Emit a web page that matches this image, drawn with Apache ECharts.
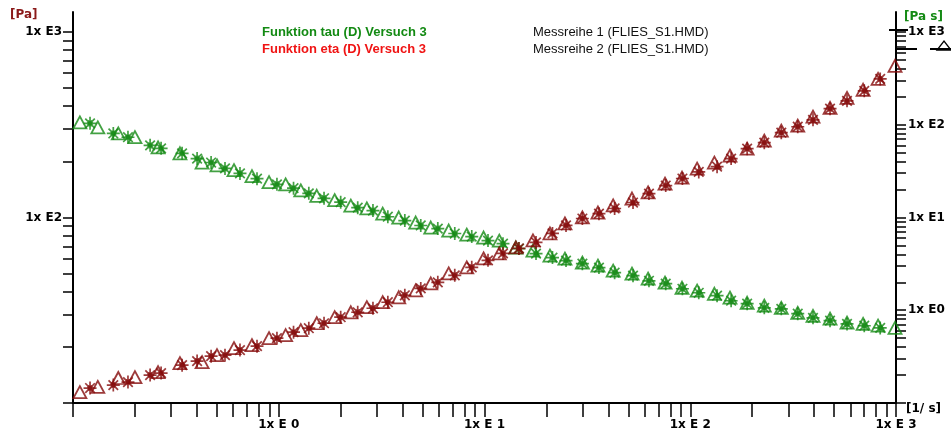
<!DOCTYPE html>
<html><head><meta charset="utf-8">
<script src="https://cdn.jsdelivr.net/npm/echarts@6/dist/echarts.min.js"></script>
<style>html,body{margin:0;padding:0;background:#fff}#c{width:951px;height:431px}</style>
</head><body><div id="c"></div>
<script>
// shear rate [1/s] for the two measurement runs
const rateM1 = [0.121,0.157,0.185,0.237,0.268,0.339,0.401,0.469,0.548,0.648,0.784,0.98,1.18,1.40,1.66,2.0,2.42,2.87,3.39,4.1,4.9,5.93,7.17,8.67,10.4,12.3,14.7,17.8,21.4,24.9,29.9,36.0,42.9,52.7,63,76,91.6,110,135,158,189,229,277,333,395,478,578,701,838];
const rateM2 = [0.108,0.132,0.166,0.2,0.259,0.331,0.424,0.501,0.606,0.741,0.897,1.08,1.28,1.53,1.87,2.24,2.68,3.2,3.83,4.63,5.48,6.7,8.2,9.9,11.8,14.2,17.2,20.8,24.6,29.9,35.6,42.2,52.1,62.4,75.4,91.2,108,131,156,189,229,277,333,395,478,578,692,818,989];
// tau [Pa]
const tauM1 = [322,284,271,245,236,222,208,198,184,173,162,151,144,135,127,121,113,109,101,96.3,90.6,87.2,82,78.9,75.1,72.3,68,63.9,60.8,58.6,56.4,53.7,50.4,48.6,45.6,44,41.3,39.3,37.9,35.6,34.3,32.6,32.2,30.3,28.8,27.8,26.7,26.1,25.4];
const tauM2 = [326,306,284,271,239,222,198,191,180,167,155,151,140,131,124,116,112,105,100,94,88.3,85.1,80.9,78,75.1,68.9,66.4,62.3,60,57.1,55,51.7,49.8,46.8,44.6,41.8,40.3,38.8,37,34.7,33.5,32.6,30.6,29.5,28.5,27.1,26.7,26.1,25.4];
// eta [Pa s]
const etaM1 = [0.145,0.156,0.168,0.2,0.21,0.256,0.283,0.32,0.328,0.372,0.41,0.5,0.58,0.64,0.724,0.841,0.951,1.05,1.22,1.45,1.72,2.0,2.38,2.9,3.45,4.1,4.64,5.39,6.73,8.2,9.75,11,12.5,14.5,18.1,22.1,26.3,31,35.3,43.1,55.2,64,82,95.1,113,149,181,232,312];
const etaM2 = [0.131,0.149,0.186,0.19,0.215,0.269,0.276,0.328,0.39,0.421,0.5,0.538,0.61,0.724,0.841,0.951,1.08,1.22,1.38,1.64,1.95,2.5,2.9,3.62,4.1,4.76,5.66,6.73,8.61,10,11.3,13.5,16,18.6,23.2,26.9,33.6,39,46.4,55.2,67.3,86.1,97.5,122,152,195,238,312,430];

// axis ticks and labels
const xTicks = [0.1,0.2,0.3,0.4,0.5,0.6,0.7,0.8,0.9,1,2,3,4,5,6,7,8,9,10,20,30,40,50,60,70,80,90,100,200,300,400,500,600,700,800,900,1000];
const xLabels = [1,10,100,1000];
const yLeftTicks = [10,20,30,40,50,60,70,80,90,100,200,300,400,500,600,700,800,900,1000];
const yLeftLabels = [100,1000];
const yRightTicks = [0.1,0.2,0.3,0.4,0.5,0.6,0.7,0.8,0.9,1,2,3,4,5,6,7,8,9,10,20,30,40,50,60,70,80,90,100,200,300,400,500,600,700,800,900,1000];
const yRightLabels = [1,10,100,1000];

const GREEN = '#148a14', DRED = '#850a0a';
const STAR = 'path://M0,6L12,6M6,0L6,12M1.6,1.6L10.4,10.4M10.4,1.6L1.6,10.4M8.2,6A2.2,2.2,0,1,1,3.8,6A2.2,2.2,0,1,1,8.2,6Z';
const zip = (a, b) => a.map((v, i) => [v, b[i]]);
const lblFont = {fontFamily: 'DejaVu Sans', fontWeight: 'bold', fontSize: 12, color: '#000'};
const lineStyle = {color: '#000', width: 2};

function triSeries(name, data, color, yIdx) {
  return {name, type: 'scatter', yAxisIndex: yIdx, data, symbol: 'triangle', symbolSize: [13, 12],
    itemStyle: {color: 'transparent', borderColor: color, borderWidth: 1.8}, silent: true};
}
function starSeries(name, data, color, yIdx) {
  return {name, type: 'scatter', yAxisIndex: yIdx, data, symbol: STAR, symbolSize: 13,
    itemStyle: {color: color, borderColor: color, borderWidth: 1.7}, silent: true};
}

const chart = echarts.init(document.getElementById('c'));
chart.setOption({
  animation: false,
  backgroundColor: '#fff',
  grid: {left: 73, right: 55, top: 12, bottom: 28},
  xAxis: {
    type: 'log', logBase: 10, min: 0.1, max: 1000,
    axisLine: {lineStyle: lineStyle},
    axisTick: {customValues: xTicks, length: 14, lineStyle: {color: '#000', width: 1.5}},
    axisLabel: Object.assign({customValues: xLabels, margin: 16,
      formatter: v => '1x E ' + Math.round(Math.log10(v))}, lblFont),
    splitLine: {show: false}
  },
  yAxis: [{
    type: 'log', logBase: 10, min: 10, max: 1283, position: 'left',
    axisLine: {show: true, lineStyle: lineStyle},
    axisTick: {customValues: yLeftTicks, length: 10, lineStyle: {color: '#000', width: 1.5}},
    axisLabel: Object.assign({customValues: yLeftLabels, margin: 11,
      formatter: v => '1x E' + Math.round(Math.log10(v))}, lblFont),
    splitLine: {show: false}
  }, {
    type: 'log', logBase: 10, min: 0.1, max: 1641, position: 'right',
    axisLine: {show: true, lineStyle: lineStyle},
    axisTick: {customValues: yRightTicks, length: 10, lineStyle: {color: '#000', width: 1.5}},
    axisLabel: Object.assign({customValues: yRightLabels, margin: 12,
      formatter: v => '1x E' + Math.round(Math.log10(v))}, lblFont),
    splitLine: {show: false}
  }],
  series: [
    triSeries('tau M2', zip(rateM2, tauM2), GREEN, 0),
    starSeries('tau M1', zip(rateM1, tauM1), GREEN, 0),
    triSeries('eta M2', zip(rateM2, etaM2), DRED, 1),
    starSeries('eta M1', zip(rateM1, etaM1), DRED, 1)
  ],
  graphic: [
    {type: 'text', left: 10, top: 9, style: {text: '[Pa]', fill: '#8b1a1a', font: 'bold 12px "DejaVu Sans"'}},
    {type: 'text', left: 904, top: 11, style: {text: '[Pa s]', fill: GREEN, font: 'bold 12px "DejaVu Sans"'}},
    {type: 'text', left: 906, top: 403, style: {text: '[1/ s]', fill: '#000', font: 'bold 12px "DejaVu Sans"'}},
    {type: 'text', left: 262, top: 26, style: {text: 'Funktion tau (D) Versuch 3', fill: '#138a13', font: 'bold 13px "Liberation Sans"'}},
    {type: 'text', left: 262, top: 43, style: {text: 'Funktion eta (D) Versuch 3', fill: '#f01414', font: 'bold 13px "Liberation Sans"'}},
    {type: 'text', left: 533, top: 26, style: {text: 'Messreihe 1 (FLIES_S1.HMD)', fill: '#111', font: '13px "Liberation Sans"'}},
    {type: 'text', left: 533, top: 43, style: {text: 'Messreihe 2 (FLIES_S1.HMD)', fill: '#111', font: '13px "Liberation Sans"'}},
    {type: 'line', shape: {x1: 889, y1: 30, x2: 908, y2: 30}, style: {stroke: '#000', lineWidth: 2}},
    {type: 'line', shape: {x1: 895, y1: 49, x2: 917, y2: 49}, style: {stroke: '#000', lineWidth: 2}},
    {type: 'line', shape: {x1: 930, y1: 49, x2: 951, y2: 49}, style: {stroke: '#000', lineWidth: 2}},
    {type: 'polygon', shape: {points: [[937, 50], [951, 50], [944, 41]]}, style: {fill: 'none', stroke: '#000', lineWidth: 1.3}}
  ]
});
</script>
</body></html>
